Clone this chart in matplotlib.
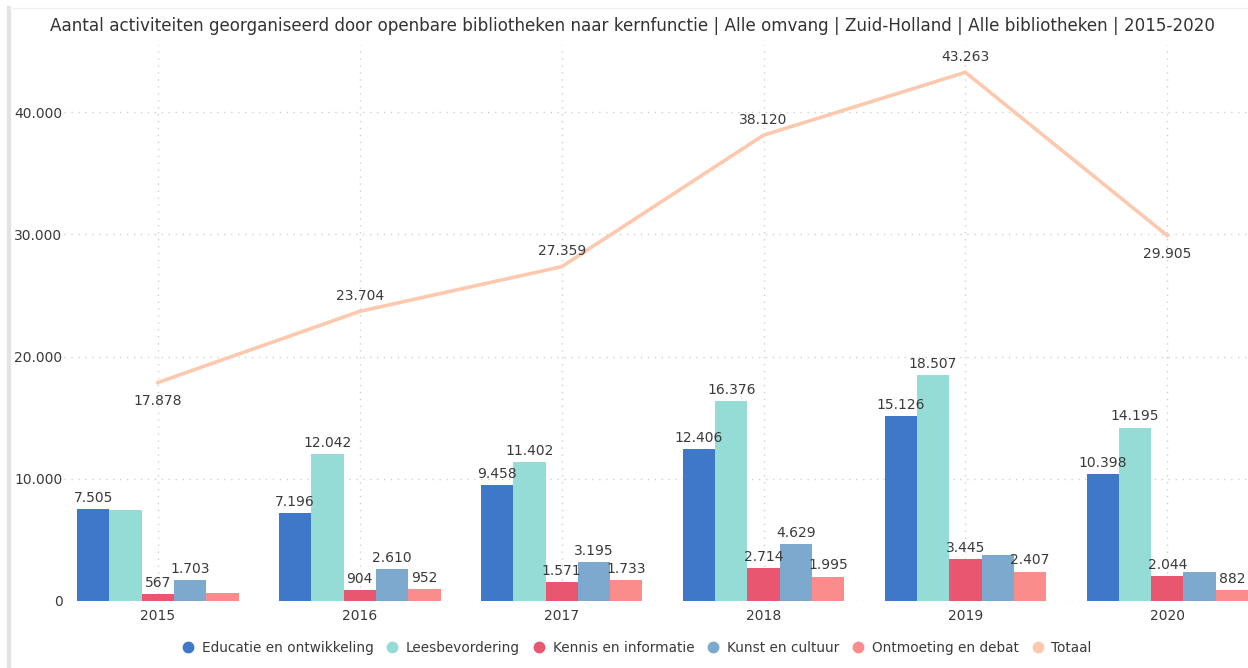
import numpy as np
import matplotlib.pyplot as plt
from matplotlib.lines import Line2D
from matplotlib.ticker import FuncFormatter

plt.rcParams['font.family'] = ['DejaVu Sans']

# data
years = ['2015', '2016', '2017', '2018', '2019', '2020']
series_names = ['Educatie en ontwikkeling', 'Leesbevordering', 'Kennis en informatie',
                'Kunst en cultuur', 'Ontmoeting en debat']
educatie = [7505, 7196, 9458, 12406, 15126, 10398]
lees = [7420, 12042, 11402, 16376, 18507, 14195]
kennis = [567, 904, 1571, 2714, 3445, 2044]
kunst = [1703, 2610, 3195, 4629, 3778, 2386]
ontmoeting = [683, 952, 1733, 1995, 2407, 882]
totaal = [17878, 23704, 27359, 38120, 43263, 29905]

# which bar labels are visible in the reference (False = hidden)
show_label = [
    [True, True, True, True, True, True],
    [False, True, True, True, True, True],
    [True, True, True, True, True, True],
    [True, True, True, True, False, False],
    [False, True, True, True, True, True],
]
totaal_below = [True, False, False, False, False, True]

colors = ['#3F78C8', '#95DCD6', '#E9566F', '#7EA9CE', '#FB8C8C']
line_color = '#FCC9AF'
text_color = '#3A3A3A'


def fmt(v):
    return f'{v:,.0f}'.replace(',', '.')


fig = plt.figure(figsize=(12.48, 6.68), dpi=100)
ax = fig.add_axes([57 / 1248, 67 / 668, 1191 / 1248, 556 / 668])

x = np.arange(len(years))
w = 0.16
lab_size = 10
all_series = [educatie, lees, kennis, kunst, ontmoeting]
for i, vals in enumerate(all_series):
    pos = x + (i - 2) * w
    ax.bar(pos, vals, width=w, color=colors[i], label=series_names[i], zorder=2)
    for j, v in enumerate(vals):
        if show_label[i][j]:
            ax.annotate(fmt(v), (pos[j], v), xytext=(0, 3), textcoords='offset points',
                        ha='center', va='bottom', fontsize=lab_size, color=text_color, zorder=4)

ax.plot(x, totaal, color=line_color, linewidth=2.6, label='Totaal', zorder=3)
for j, v in enumerate(totaal):
    if totaal_below[j]:
        ax.annotate(fmt(v), (x[j], v), xytext=(0, -8), textcoords='offset points',
                    ha='center', va='top', fontsize=lab_size, color=text_color, zorder=4)
    else:
        ax.annotate(fmt(v), (x[j], v), xytext=(0, 6), textcoords='offset points',
                    ha='center', va='bottom', fontsize=lab_size, color=text_color, zorder=4)

ax.set_xlim(-0.5, 5.4)
ax.set_ylim(0, 45500)
ax.set_yticks([0, 10000, 20000, 30000, 40000])
ax.yaxis.set_major_formatter(FuncFormatter(lambda v, p: fmt(v)))
ax.set_xticks(x)
ax.set_xticklabels(years)
ax.tick_params(length=0, labelsize=10, colors=text_color)
ax.tick_params(axis='x', pad=6)
ax.tick_params(axis='y', pad=-4)
for s in ax.spines.values():
    s.set_visible(False)
ax.grid(True, linestyle=(0, (1, 4)), color='#D0D0D0', linewidth=1, zorder=0)
ax.set_axisbelow(True)

fig.text(633 / 1248, 1 - 26 / 668, 'Aantal activiteiten georganiseerd door openbare bibliotheken naar kernfunctie | '
         'Alle omvang | Zuid-Holland | Alle bibliotheken | 2015-2020',
         ha='center', va='center', fontsize=12.1, color='#333333')

handles = [Line2D([], [], marker='o', linestyle='', markersize=7.5, color=c) for c in colors + [line_color]]
fig.legend(handles, series_names + ['Totaal'], loc='center', bbox_to_anchor=(633 / 1248, 1 - 648 / 668),
           ncol=6, frameon=False, fontsize=9.8, handletextpad=0.0, columnspacing=0.4,
           labelcolor=text_color)

# visual frame on left/top like the report canvas
fig.add_artist(Line2D([9 / 1248, 9 / 1248], [0, 1 - 8 / 668], color='#E3E3E3', linewidth=3))
fig.add_artist(Line2D([9 / 1248, 1], [1 - 8 / 668, 1 - 8 / 668], color='#F0F0F0', linewidth=1))

fig.savefig('out.png', dpi=100)
